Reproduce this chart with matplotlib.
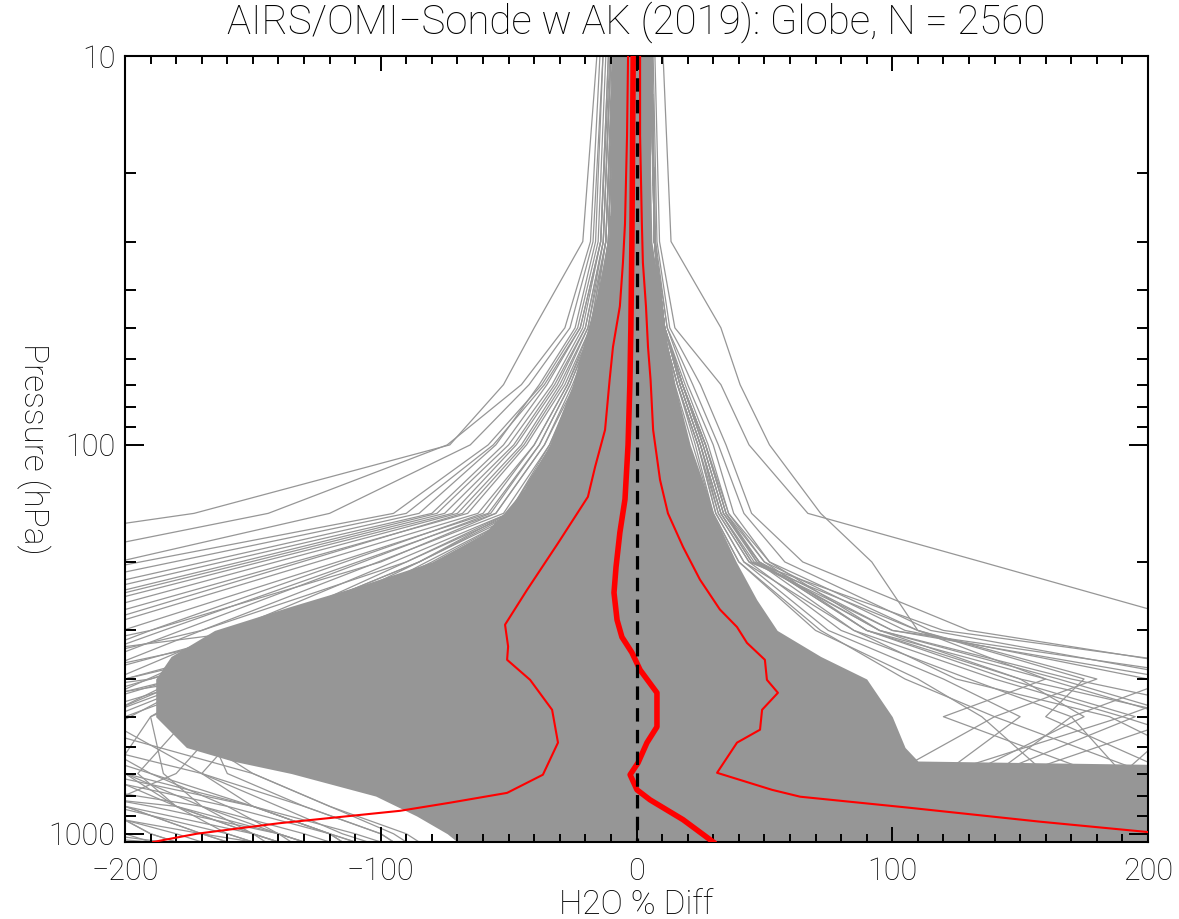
#!/usr/bin/env python3

import matplotlib
matplotlib.use('Agg')
import matplotlib.pyplot as plt
from matplotlib.ticker import FixedLocator, MultipleLocator, FuncFormatter

plt.rcParams['font.family'] = ['Roboto', 'DejaVu Sans']
plt.rcParams['font.weight'] = 'light'
plt.rcParams['axes.labelweight'] = 'light'

GRAY = '#969696'

# pressure levels (hPa) the single gray profiles are read at
lev = [10, 30, 50, 70, 100, 150, 200, 300, 400, 500, 700, 850, 1000, 1050]

# edges of the solid gray core made by the 2560 overlapping profiles
core_lo_p = [10, 20, 30, 40, 50, 70, 100, 130, 150, 170, 200, 230, 260, 300, 350, 400, 500, 600, 650, 700, 800, 900, 1000, 1050]
core_lo_x = [-8.5, -9.5, -11, -15, -19, -25, -34, -44, -52, -60, -80, -108, -135, -165, -182, -188, -188, -176, -158, -135, -102, -86, -74, -70]
core_hi_p = [10, 20, 30, 40, 50, 70, 100, 130, 150, 200, 250, 300, 350, 400, 500, 600, 650, 665, 1050]
core_hi_x = [6, 5.5, 6, 9, 11, 15, 21, 27, 30, 39, 47, 55, 72, 90, 100, 105, 110, 215, 215]

# profiles fanning out to the left edge (upper troposphere)
fan_left = [
    [-15.5, -21, -40, -52, -73, -173, -305, -420, -430, -400, -350, -300, -260, -250],
    [-14.3, -18, -28, -45, -74, -144, -239, -330, -360, -340, -300, -260, -230, -220],
    [-13.1, -17, -26, -42, -65, -120, -203, -310, -340, -320, -280, -240, -210, -205],
    [-12, -15, -23, -37, -58, -95, -194, -330, -340, -320, -290, -260, -240, -235],
    [-11, -14, -22, -36, -56, -90, -181, -310, -330, -310, -280, -260, -240, -235],
    [-13.1, -16, -24, -38, -55, -85, -169, -288, -330, -300, -250, -220, -215, -210],
    [-10.4, -14, -22, -35, -52, -80, -162, -277, -320, -310, -280, -250, -230, -225],
    [-11, -14, -21, -33, -50, -78, -155, -265, -300, -290, -260, -240, -220, -215],
    [-10, -13, -20, -32, -48, -75, -151, -260, -300, -290, -270, -250, -240, -235],
    [-10, -13, -20, -31, -47, -72, -147, -252, -290, -280, -240, -200, -170, -160],
    [-10, -13, -19, -30, -45, -70, -141, -240, -280, -270, -230, -210, -190, -180],
    [-9, -12, -18, -28, -43, -66, -134, -229, -260, -240, -200, -170, -150, -145],
    [-9.5, -12, -19, -29, -44, -68, -131, -220, -260, -250, -220, -205, -200, -200],
    [-9, -12, -18, -27, -40, -62, -125, -214, -250, -260, -230, -215, -205, -200],
    [-9, -11, -17, -26, -38, -58, -117, -201, -250, -230, -190, -160, -140, -135],
    [-9, -12, -17, -27, -40, -60, -114, -190, -240, -250, -230, -210, -205, -205],
    [-8.5, -11, -16, -25, -36, -55, -109, -185, -238, -260, -240, -220, -210, -205],
    [-9, -11, -17, -26, -38, -57, -107, -178, -228, -250, -240, -220, -210, -205],
    [-8.5, -10, -15, -24, -34, -52, -101, -170, -218, -230, -200, -180, -160, -150],
    [-8.5, -10, -15, -23, -33, -50, -95, -159, -204, -220, -230, -215, -210, -205],
    [-8.5, -10, -15, -23, -32, -48, -90, -149, -191, -224, -210, -180, -150, -140],
    [-8.5, -10, -14, -22, -31, -46, -85, -140, -179, -209, -250, -240, -230, -225],
    [-8.5, -10, -14, -22, -30, -45, -82, -133, -170, -198, -240, -260, -250, -245],
]

# profiles that leave the left edge mid-way and come back near the surface
low_left = [
    [-8, -10, -14, -22, -32, -48, -85, -150, -220, -260, -170, -130, -100, -95],
    [-8, -10, -14, -21, -30, -45, -80, -135, -190, -300, -220, -160, -120, -110],
    [-8, -10, -14, -21, -30, -44, -78, -130, -180, -240, -260, -190, -140, -130],
    [-8, -10, -13, -20, -29, -42, -75, -125, -170, -220, -300, -230, -170, -150],
    [-8, -10, -13, -20, -28, -40, -72, -120, -200, -300, -330, -260, -210, -185],
    [-8.5, -11, -15, -23, -34, -50, -90, -170, -250, -230, -150, -120, -95, -90],
    [-8.5, -11, -16, -24, -36, -55, -100, -190, -280, -260, -190, -150, -120, -115],
    [-8, -10, -14, -21, -30, -45, -78, -140, -230, -250, -210, -150, -110, -100],
    [-8.5, -11, -15, -23, -33, -50, -85, -150, -300, -350, -240, -200, -150, -140],
    [-8, -10, -14, -21, -30, -44, -76, -130, -200, -300, -300, -180, -140, -130],
    [-8, -10, -13, -20, -28, -40, -70, -110, -150, -170, -160, -130, -100, -95],
    [-8, -10, -13, -20, -28, -42, -72, -115, -165, -190, -185, -170, -140, -130],
    [-8, -10, -13, -19, -27, -38, -65, -100, -140, -175, -195, -180, -150, -140],
    [-8, -9.5, -12, -18, -26, -36, -62, -95, -130, -160, -180, -210, -190, -180],
    [-8, -9.5, -12, -18, -25, -35, -60, -90, -125, -150, -170, -150, -120, -110],
    [-8, -10, -13, -20, -28, -40, -70, -115, -170, -210, -220, -200, -170, -160],
    [-8, -10, -13, -20, -28, -40, -70, -120, -190, -240, -200, -150, -120, -115],
    [-8, -10, -13, -20, -29, -42, -74, -125, -180, -230, -250, -170, -130, -120],
    [-8, -10, -13, -19, -27, -38, -66, -110, -160, -200, -230, -220, -180, -170],
    [-8, -10, -13, -19, -27, -39, -68, -112, -170, -260, -280, -250, -230, -190],
    [-8, -10, -13, -19, -26, -37, -64, -105, -150, -185, -150, -120, -90, -85],
    [-8, -10, -13, -20, -28, -41, -72, -118, -175, -210, -170, -140, -115, -105],
    [-8, -10, -13, -20, -28, -40, -70, -116, -168, -205, -235, -205, -160, -150],
    [-8, -10, -13, -19, -27, -38, -66, -108, -155, -190, -205, -240, -200, -190],
]

# profiles fanning out to the right edge
fan_right = [
    [10.4, 13.5, 33, 40.5, 52, 72, 92, 110, 160, 210, 240, 240, 240, 240],
    [7.2, 9, 15, 33, 44, 67, 135, 230, 260, 250, 230, 220, 220, 220],
    [6.5, 8, 13, 25, 35, 45, 65, 130, 250, 260, 240, 230, 230, 230],
    [6, 7.5, 12, 22, 32, 42, 58, 115, 220, 250, 240, 230, 230, 230],
    [6, 7, 12, 20, 30, 38, 52, 95, 170, 240, 250, 240, 240, 240],
    [6, 7, 11, 19, 28, 36, 50, 90, 150, 215, 240, 240, 240, 240],
    [6, 7, 11, 18, 27, 35, 47, 85, 140, 190, 260, 250, 250, 250],
    [6, 7, 11, 18, 26, 34, 48, 100, 230, 190, 120, 90, 60, 50],
    [6, 7, 11, 17, 25, 33, 45, 120, 260, 215, 150, 110, 80, 70],
    [5.5, 7, 10, 16, 24, 32, 44, 110, 180, 140, 100, 80, 60, 55],
    [5.5, 7, 10, 16, 24, 31, 42, 75, 120, 150, 120, 90, 70, 60],
    [6, 7, 11, 17, 25, 32, 44, 80, 130, 170, 190, 200, 210, 210],
    [6, 7, 11, 18, 27, 35, 50, 105, 200, 250, 260, 250, 250, 250],
    [5.5, 7, 10, 16, 23, 30, 40, 70, 110, 135, 160, 170, 170, 170],
    [5.5, 7, 10, 15, 22, 30, 40, 72, 105, 140, 200, 220, 220, 220],
    [6, 7, 11, 17, 25, 33, 46, 95, 150, 175, 130, 100, 80, 70],
    [6, 7, 11, 18, 26, 34, 48, 90, 160, 120, 180, 150, 120, 110],
    [6, 7, 11, 18, 27, 36, 52, 110, 175, 160, 210, 200, 190, 190],
    [5.5, 7, 10, 16, 24, 31, 42, 85, 125, 185, 230, 220, 210, 210],
    [6, 7, 11, 17, 25, 33, 45, 100, 210, 170, 140, 110, 90, 80],
    [6, 7, 11, 18, 26, 34, 47, 95, 165, 215, 190, 160, 140, 130],
    [6, 7, 11, 18, 27, 35, 48, 90, 145, 195, 140, 120, 100, 95],
]

# mean difference (thick red)
mean_p = [10, 30, 50, 70, 100, 138, 168, 206, 240, 282, 312, 342, 379, 434, 531, 583, 657, 705, 771, 818, 920, 1050]
mean_x = [-1.3, -1.8, -2.2, -2.6, -3.3, -4.5, -6.5, -8.0, -8.8, -7.6, -5.7, -1.8, 1.4, 8.0, 8.0, 4.1, 0.6, -2.5, 0.2, 5.3, 18.2, 30.0]

# mean minus one standard deviation
lo_p = [10, 16, 27, 34, 44, 56, 68, 91.5, 114, 136, 179, 236, 290, 330, 357, 402, 480, 583, 705, 785, 832, 873, 940, 1000, 1050]
lo_x = [-3.3, -3.7, -4.5, -5.3, -6.5, -9.2, -10.5, -12.3, -16.2, -19.0, -30.7, -42.8, -51.4, -50.2, -50.6, -41.6, -33.0, -30.7, -36.6, -50.6, -72.9, -92.5, -140, -172, -189]

# mean plus one standard deviation
hi_p = [10, 16, 27, 34, 44, 56, 68, 91.5, 123, 150, 183, 222, 265, 294, 323, 357, 402, 434, 480, 540, 583, 697, 771, 803, 857, 931, 990, 1050]
hi_x = [1.4, 1.4, 2.1, 2.5, 3.7, 4.5, 5.5, 6.5, 9.2, 12.3, 18.2, 24.8, 32.6, 39.3, 43.2, 50.2, 51.0, 55.3, 49.1, 48.3, 39.3, 31.5, 53.0, 64.0, 106.5, 157.8, 200, 228]

fig = plt.figure(figsize=(11.79, 9.19), dpi=100)
ax = fig.add_axes([125 / 1179, 1 - 842 / 919, 1023 / 1179, 786 / 919])

ax.fill_betweenx(core_lo_p, core_lo_x, 1, color=GRAY, lw=0, zorder=1)
ax.fill_betweenx(core_hi_p, -1, core_hi_x, color=GRAY, lw=0, zorder=1)
for prof in fan_left + low_left + fan_right:
    ax.plot(prof, lev, color=GRAY, lw=0.9, zorder=1)

ax.plot(lo_x, lo_p, color='red', lw=1.5, zorder=3)
ax.plot(hi_x, hi_p, color='red', lw=1.5, zorder=3)
ax.plot(mean_x, mean_p, color='red', lw=4.0, zorder=4)
ax.plot([0, 0], [10, 1050], color='black', lw=2.3, dashes=(4.2, 2.6), zorder=5)

ax.set_yscale('log')
ax.set_xlim(-200, 200)
ax.set_ylim(1050, 10)

ax.xaxis.set_major_locator(FixedLocator([-200, -100, 0, 100, 200]))
ax.xaxis.set_minor_locator(MultipleLocator(10))
ax.yaxis.set_major_locator(FixedLocator([10, 100, 1000]))
ax.yaxis.set_minor_locator(FixedLocator([20, 30, 40, 50, 60, 70, 80, 90,
                                         200, 300, 400, 500, 600, 700, 800, 900]))
ax.yaxis.set_major_formatter(FuncFormatter(lambda v, pos: '%g' % v))
ax.yaxis.set_minor_formatter(FuncFormatter(lambda v, pos: ''))

ax.tick_params(which='both', direction='in', top=True, right=True, width=1.4, color='black')
ax.tick_params(axis='x', which='major', length=11, pad=11, labelsize=22)
ax.tick_params(axis='x', which='minor', length=6)
ax.tick_params(axis='y', which='major', length=14, pad=7, labelsize=22)
ax.tick_params(axis='y', which='minor', length=8)
for sp in ax.spines.values():
    sp.set_linewidth(1.5)

ax.set_xlabel('H2O % Diff', fontsize=24, fontweight='light', va='center')
ax.xaxis.set_label_coords(0.5, -0.080)
ax.set_ylabel('Pressure (hPa)', fontsize=24, fontweight='light', rotation=270, va='center')
ax.yaxis.set_label_coords(-0.090, 0.5)
ax.text(0.5, 1.043, 'AIRS/OMI\u2212Sonde w AK (2019): Globe, N = 2560',
        transform=ax.transAxes, ha='center', va='center', fontsize=29)

fig.savefig('out.png', dpi=100)
